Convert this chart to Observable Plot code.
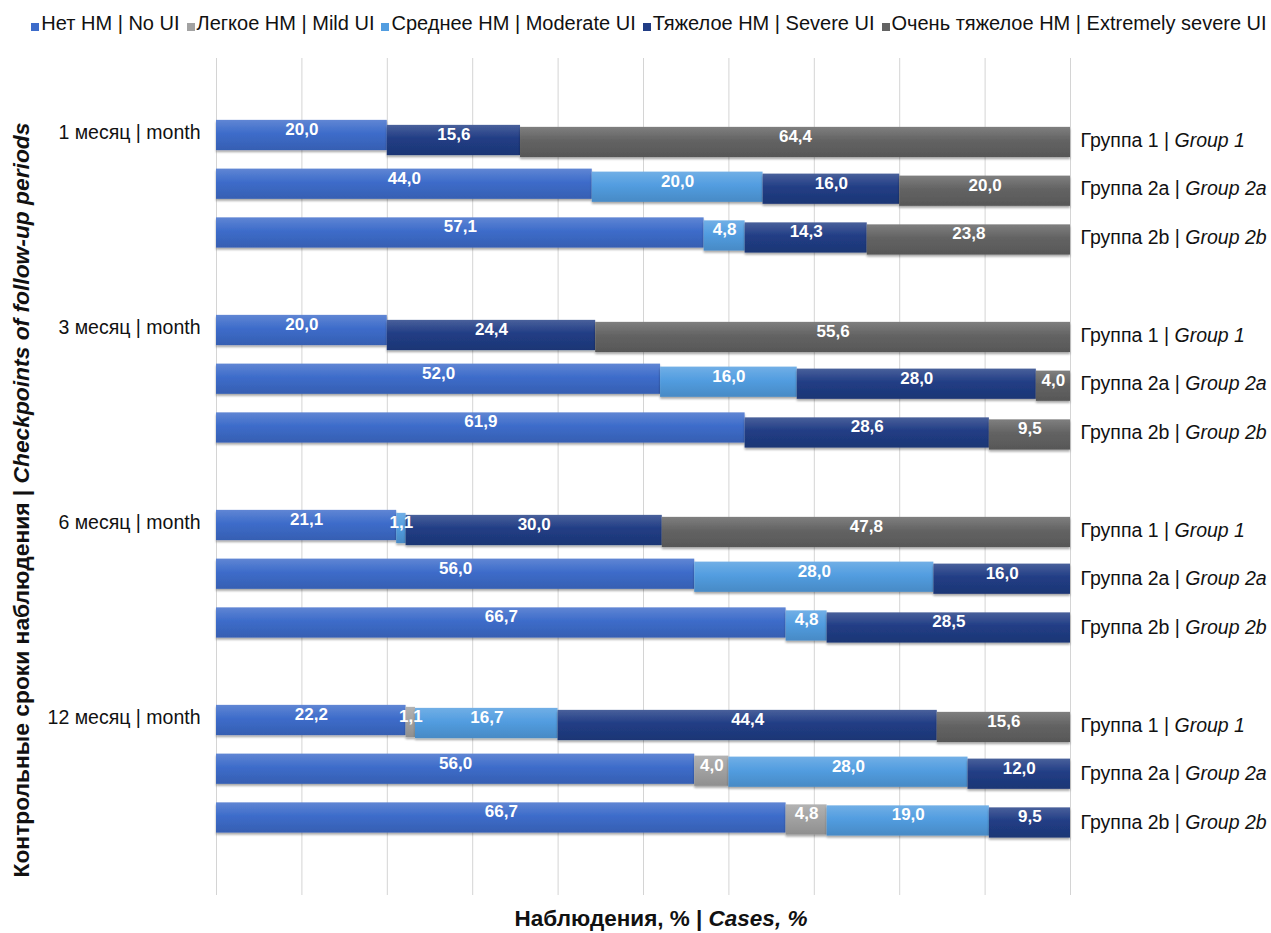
<!DOCTYPE html>
<html><head><meta charset="utf-8">
<script src="https://cdn.jsdelivr.net/npm/d3@7"></script>
<script src="https://cdn.jsdelivr.net/npm/@observablehq/plot@0.6"></script>
<style>
body{margin:0;background:#fff;font-family:"Liberation Sans",Arial,sans-serif;}
#wrap{position:relative;width:1271px;height:933px;overflow:hidden;background:#fff}
#legend{position:absolute;left:0;top:8px;width:1271px;height:30px;display:flex;justify-content:center;align-items:center;gap:7px;font-size:20px;color:#111;padding-left:27px;box-sizing:border-box}
.li{display:flex;align-items:center;white-space:nowrap}
.sw{width:8px;height:8px;margin-right:2px;margin-top:7px}
#chart{position:absolute;left:0;top:50px}
#xtitle{position:absolute;top:906px;left:461px;width:400px;text-align:center;font-weight:bold;font-size:22.5px;color:#111;white-space:nowrap}
#ytitle{position:absolute;left:21px;top:500px;transform:translate(-50%,-50%) rotate(-90deg);font-weight:bold;font-size:22.8px;color:#111;white-space:nowrap}
</style></head>
<body>
<div id="wrap">
  <div id="legend"></div>
  <div id="chart"></div>
  <div id="xtitle">Наблюдения, % | <i>Cases, %</i></div>
  <div id="ytitle">Контрольные сроки наблюдения | <i>Checkpoints of follow-up periods</i></div>
</div>
<script>
// ---- data ----
const categories = ["Нет НМ | No UI", "Легкое НМ | Mild UI", "Среднее НМ | Moderate UI", "Тяжелое НМ | Severe UI", "Очень тяжелое НМ | Extremely severe UI"];
const colors = ["#3d6cca", "#a2a2a2", "#529de0", "#213d85", "#636363"];
const periods = ["1 месяц | month", "3 месяц | month", "6 месяц | month", "12 месяц | month"];
const groups = ["Группа 1 | Group 1", "Группа 2a | Group 2a", "Группа 2b | Group 2b"];
// rows ordered: period1 (G1, G2a, G2b), period3 (...), period6, period12
const noUI       = [20.0, 44.0, 57.1, 20.0, 52.0, 61.9, 21.1, 56.0, 66.7, 22.2, 56.0, 66.7];
const mildUI     = [0,    0,    0,    0,    0,    0,    0,    0,    0,    1.1,  4.0,  4.8];
const moderateUI = [0,    20.0, 4.8,  0,    16.0, 0,    1.1,  28.0, 4.8,  16.7, 28.0, 19.0];
const severeUI   = [15.6, 16.0, 14.3, 24.4, 28.0, 28.6, 30.0, 16.0, 28.5, 44.4, 12.0, 9.5];
const extremeUI  = [64.4, 20.0, 23.8, 55.6, 4.0,  9.5,  47.8, 0,    0,    15.6, 0,    0];
const xTicks = [0, 10, 20, 30, 40, 50, 60, 70, 80, 90, 100];

const seriesValues = [noUI, mildUI, moderateUI, severeUI, extremeUI];
const segDy = [0, 2, 3, 5, 7];

// slots: 4 per period (3 groups + gap)
const slotDomain = [];
periods.forEach((p, pi) => { for (let g = 0; g < 4; g++) slotDomain.push(`${pi}-${g}`); });

const rows = [];
const segs = [];
noUI.forEach((_, i) => {
  const pi = Math.floor(i / 3), gi = i % 3;
  const slot = `${pi}-${gi}`;
  rows.push({slot, group: groups[gi], period: periods[pi]});
  let acc = 0;
  seriesValues.forEach((vals, ci) => {
    const v = vals[i];
    if (v > 0) {
      segs.push({slot, ci, value: v, x1: acc, x2: acc + v, label: v.toFixed(1).replace(".", ",")});
      acc += v;
    }
  });
});
const firstSlots = periods.map((p, pi) => ({slot: `${pi}-0`, period: p}));

// ---- legend ----
const legend = d3.select("#legend");
categories.forEach((c, i) => {
  const it = legend.append("div").attr("class", "li");
  it.append("div").attr("class", "sw").style("background", colors[i]);
  it.append("span").text(c);
});

// ---- gradients ----
function defsMark() {
  const defs = d3.create("svg:defs");
  colors.forEach((c, i) => {
    const g = defs.append("linearGradient").attr("id", "grad" + i).attr("x1", 0).attr("y1", 0).attr("x2", 0).attr("y2", 1);
    g.append("stop").attr("offset", "0%").attr("stop-color", d3.interpolateRgb(c, "#fff")(0.18));
    g.append("stop").attr("offset", "45%").attr("stop-color", c);
    g.append("stop").attr("offset", "100%").attr("stop-color", d3.interpolateRgb(c, "#000")(0.12));
  });
  const f = defs.append("filter").attr("id", "shadow").attr("x", "-5%").attr("y", "-20%").attr("width", "110%").attr("height", "160%");
  f.append("feDropShadow").attr("dx", 0).attr("dy", 2).attr("stdDeviation", 1.2).attr("flood-color", "#000").attr("flood-opacity", 0.35);
  return defs.node();
}

const H = 860;
const marks = [
  defsMark,
  Plot.ruleX(xTicks, {stroke: "#d4d4d4", strokeWidth: 1})
];
categories.forEach((c, ci) => {
  const d = segs.filter(s => s.ci === ci);
  marks.push(Plot.barX(d, {x1: "x1", x2: "x2", y: "slot", fill: `url(#grad${ci})`, dy: segDy[ci]}));
});
categories.forEach((c, ci) => {
  const d = segs.filter(s => s.ci === ci);
  marks.push(Plot.text(d, {x: s => (s.x1 + s.x2) / 2, y: "slot", text: "label", fill: "#fff", fontWeight: "bold", fontSize: 17, dy: segDy[ci] - 6}));
});
marks.push(Plot.text(firstSlots, {y: "slot", text: "period", frameAnchor: "left", dx: -16, textAnchor: "end", fontSize: 19.5, fill: "#111", dy: -3}));
marks.push(Plot.text(rows, {y: "slot", text: "group", frameAnchor: "right", dx: 10, textAnchor: "start", fontSize: 19.5, fill: "#111", dy: 5, className: "grp"}));

const chart = Plot.plot({
  width: 1271,
  height: H,
  marginLeft: 216,
  marginRight: 201,
  marginTop: 8,
  marginBottom: H - 845,
  style: {fontFamily: "'Liberation Sans', Arial, sans-serif", background: "#fff"},
  x: {domain: [0, 100], axis: null},
  y: {domain: slotDomain, range: [60.6, 840.6], paddingInner: 0.38, paddingOuter: 0.19, round: false, axis: null},
  marks
});
document.getElementById("chart").appendChild(chart);

// shadows on bars
d3.select(chart).selectAll("g[aria-label='bar']").attr("filter", "url(#shadow)");
// italic English parts of group labels
d3.select(chart).selectAll("g.grp text").each(function() {
  const t = this.textContent;
  const k = t.indexOf("| ");
  this.textContent = "";
  const s = d3.select(this);
  s.append("tspan").text(t.slice(0, k + 2));
  s.append("tspan").attr("font-style", "italic").text(t.slice(k + 2));
});
</script>
</body></html>
